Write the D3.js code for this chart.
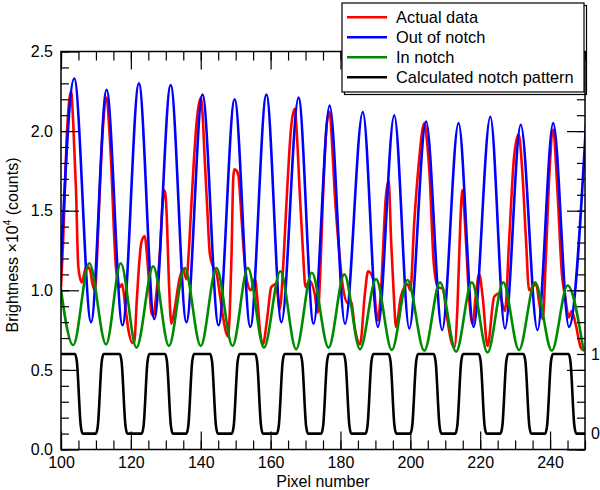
<!DOCTYPE html>
<html><head><meta charset="utf-8">
<script src="https://cdn.jsdelivr.net/npm/d3@7"></script>
<style>
body{margin:0;background:#fff}
text{font-family:"Liberation Sans",Arial,Helvetica,sans-serif;fill:#000}
</style>
</head><body>
<svg id="chart" width="600" height="490"></svg>
<script>
// ---- data ----
const xTicksMajor = [100, 120, 140, 160, 180, 200, 220, 240];
const yTicksMajor = [0.0, 0.5, 1.0, 1.5, 2.0, 2.5];
const legendLabels = ["Actual data", "Out of notch", "In notch", "Calculated notch pattern"];
const rightLabels = [{v: 0.6, t: "1"}, {v: 0.1, t: "0"}];

// Out of notch (blue): alternating troughs / peaks
const blueX = [99.3,103.8,108.6,113.05,117.6,122.3,126.7,131.4,135.9,140.5,145.1,149.7,154.2,158.8,163.1,168.0,172.3,176.9,181.3,186.4,190.7,195.4,199.7,204.5,209.1,213.8,218.1,222.9,227.1,231.6,236.4,240.9,245.4,250.3];
const blueY = [0.80,2.33,0.80,2.26,0.78,2.30,0.82,2.29,0.80,2.23,0.78,2.20,0.77,2.23,0.80,2.21,0.79,2.16,0.79,2.12,0.77,2.10,0.76,2.06,0.75,2.05,0.77,2.09,0.76,2.04,0.75,2.05,0.77,2.05];

// In notch (green): alternating peaks / troughs
const greenX = [99.0,103.5,108.1,112.9,117.1,121.6,126.4,130.9,135.4,140.0,144.5,149.1,153.5,158.1,162.8,167.3,171.8,176.6,181.1,185.6,190.2,194.7,199.2,204.0,208.5,213.1,217.6,222.1,226.6,231.1,235.7,240.5,245.0,249.6];
const greenY = [1.17,0.656,1.17,0.66,1.17,0.64,1.15,0.65,1.14,0.65,1.14,0.65,1.14,0.64,1.12,0.63,1.11,0.64,1.10,0.63,1.07,0.625,1.065,0.62,1.05,0.614,1.05,0.61,1.05,0.625,1.05,0.62,1.03,0.62];

// Actual data (red)
const redX = [100.0,100.6,101.6,102.3,102.9,103.5,104.3,104.95,105.9,107.3,108.3,109.0,109.7,110.3,111.1,112.0,113.05,113.8,114.5,115.1,115.7,116.3,116.9,117.5,118.3,119.3,120.4,121.0,121.7,123.0,124.0,124.5,125.0,125.9,126.4,127.3,128.3,129.1,129.5,129.9,130.3,130.8,131.6,132.5,134.0,135.0,135.9,136.6,137.3,138.0,138.8,140.0,140.6,141.1,141.9,142.6,143.5,144.5,145.5,146.4,147.8,148.3,148.8,149.3,149.6,150.3,150.8,151.4,152.1,153.3,154.3,155.5,156.3,157.0,157.8,159.0,160.2,161.6,162.6,163.6,164.5,165.9,166.9,167.6,168.3,169.2,170.0,171.1,172.6,173.5,174.2,174.9,176.1,176.9,177.6,178.3,179.7,180.7,182.1,183.0,184.2,185.6,187.0,187.9,189.4,190.0,190.7,191.6,193.0,193.8,194.5,195.2,195.9,197.3,198.3,199.2,200.0,201.1,202.6,203.4,204.0,204.7,205.5,206.7,207.9,209.3,210.2,211.6,212.6,213.5,214.3,214.9,215.9,216.8,217.8,218.7,219.7,220.7,222.1,224.0,225.4,227.1,228.3,229.7,231.0,232.1,233.1,234.0,235.0,236.0,236.9,237.9,238.8,239.8,240.9,242.1,243.4,244.3,245.4,246.2,247.3,248.8,249.7];
const redY = [1.02,1.30,1.94,2.18,2.25,2.05,1.63,1.15,1.05,1.15,1.13,1.04,1.00,1.20,1.63,2.02,2.21,2.02,1.73,1.40,1.15,1.05,1.02,1.04,0.92,0.75,0.67,0.68,0.94,1.30,1.34,1.25,1.11,0.86,0.84,0.98,1.23,1.55,1.63,1.60,1.45,1.11,0.79,0.88,1.08,1.13,1.07,1.25,1.53,1.80,2.05,2.21,2.08,1.84,1.50,1.23,1.15,1.11,0.97,0.83,0.71,0.85,1.21,1.70,1.76,1.75,1.72,1.55,1.31,1.05,1.00,1.07,0.92,0.74,0.66,0.82,1.02,1.04,0.88,1.15,1.53,2.03,2.14,1.95,1.63,1.27,1.02,1.06,0.98,0.86,1.10,1.53,2.05,2.12,1.92,1.63,1.23,1.02,0.92,0.93,0.75,0.66,0.98,1.12,1.07,0.92,0.81,1.00,1.59,1.69,1.31,1.00,0.77,0.96,1.02,1.04,1.00,1.42,1.84,2.00,2.05,1.95,1.73,1.17,1.02,1.01,0.88,0.69,0.64,0.90,1.42,1.63,1.32,0.96,0.79,0.96,1.10,0.96,0.65,0.96,0.98,0.87,1.32,1.84,1.98,1.73,1.32,1.00,1.02,1.04,0.92,0.82,1.21,1.73,2.01,1.63,1.10,0.96,0.83,0.87,0.79,0.64,0.62];

// Calculated notch pattern (black): levels and edge positions (pixel number)
const notchHigh = 0.6, notchLow = 0.1;
const notchDown = [105.1,117.9,130.9,143.8,156.7,169.6,182.0,194.9,207.8,220.7,233.5,246.4];
const notchUp   = [111.1,124.2,137.0,150.0,162.9,175.6,188.3,201.1,214.0,226.9,239.7];

// ---- drawing ----
const svg = d3.select("#chart");
const L = 61, R = 585, T = 51.5, B = 449.5;
const x = d3.scaleLinear().domain([100, 250]).range([L, R]);
const y = d3.scaleLinear().domain([0, 2.5]).range([B, T]);

svg.append("defs").append("clipPath").attr("id", "clip")
  .append("rect").attr("x", L).attr("y", T).attr("width", R - L).attr("height", B - T);

const line = d3.line().x(d => x(d[0])).y(d => y(d[1])).curve(d3.curveMonotoneX);

// notch path points
const edges = notchDown.map(m => ({m, dir: -1})).concat(notchUp.map(m => ({m, dir: 1})))
  .sort((a, b) => a.m - b.m);
const notchPts = [[98, notchHigh]];
edges.forEach(e => {
  const from = e.dir < 0 ? notchHigh : notchLow, to = e.dir < 0 ? notchLow : notchHigh;
  const s = e.dir < 0 ? -1 : 1;
  notchPts.push([e.m - 1.1, from], [e.m - 0.55, from + s * 0.05], [e.m + 0.55, to - s * 0.05], [e.m + 1.1, to]);
});
notchPts.push([252, notchLow]);

const colors = ["#ff0000", "#0000ff", "#008a00", "#000000"];
const series = [d3.zip(redX, redY), d3.zip(blueX, blueY), d3.zip(greenX, greenY), notchPts];

const g = svg.append("g").attr("clip-path", "url(#clip)");
series.forEach((s, i) => {
  g.append("path").datum(s).attr("d", line)
    .attr("fill", "none").attr("stroke", colors[i]).attr("stroke-width", 2.6)
    .attr("stroke-linejoin", "round");
});

// axes
const minorX = d3.range(100, 251, 5), minorY = d3.range(0, 26).map(i => i / 10);
function styleAxis(sel) {
  sel.select(".domain").remove();
  sel.selectAll(".tick line").attr("stroke", "#000").attr("stroke-width", 1.2);
  sel.selectAll("text").attr("font-size", 16).attr("font-family", '"Liberation Sans",Arial,sans-serif').attr("fill", "#000");
}
svg.append("g").attr("transform", `translate(0,${B})`)
  .call(d3.axisBottom(x).tickValues(minorX).tickSize(-9).tickFormat("")).call(styleAxis);
svg.append("g").attr("transform", `translate(0,${B})`)
  .call(d3.axisBottom(x).tickValues(xTicksMajor).tickSize(-18).tickPadding(7).tickFormat(d3.format("d"))).call(styleAxis);
svg.append("g").attr("transform", `translate(0,${T})`)
  .call(d3.axisTop(x).tickValues(minorX).tickSize(-9).tickFormat("")).call(styleAxis);
svg.append("g").attr("transform", `translate(0,${T})`)
  .call(d3.axisTop(x).tickValues(xTicksMajor).tickSize(-18).tickFormat("")).call(styleAxis);
svg.append("g").attr("transform", `translate(${L},0)`)
  .call(d3.axisLeft(y).tickValues(minorY).tickSize(-8).tickFormat("")).call(styleAxis);
svg.append("g").attr("transform", `translate(${L},0)`)
  .call(d3.axisLeft(y).tickValues(yTicksMajor).tickSize(-18).tickPadding(8).tickFormat(d3.format(".1f"))).call(styleAxis);
svg.append("g").attr("transform", `translate(${R},0)`)
  .call(d3.axisRight(y).tickValues(minorY).tickSize(-8).tickFormat("")).call(styleAxis);
svg.append("g").attr("transform", `translate(${R},0)`)
  .call(d3.axisRight(y).tickValues(yTicksMajor).tickSize(-18).tickFormat("")).call(styleAxis);

svg.append("rect").attr("x", L).attr("y", T).attr("width", R - L).attr("height", B - T)
  .attr("fill", "none").attr("stroke", "#000").attr("stroke-width", 1.5);

// right-hand notch labels
svg.selectAll("text.rl").data(rightLabels).enter().append("text").attr("class", "rl")
  .attr("x", R + 6).attr("y", d => y(d.v)).attr("dy", "0.35em")
  .attr("font-size", 16).text(d => d.t);

// axis titles
svg.append("text").attr("x", (L + R) / 2).attr("y", 487).attr("text-anchor", "middle")
  .attr("font-size", 16).text("Pixel number");
const yl = svg.append("text").attr("transform", "translate(18,245) rotate(-90)")
  .attr("text-anchor", "middle").attr("font-size", 16);
yl.append("tspan").text("Brightness ×10");
yl.append("tspan").attr("font-size", 10).attr("dy", -7).text("4");
yl.append("tspan").attr("dy", 7).text(" (counts)");

// legend
const lg = svg.append("g");
lg.append("rect").attr("x", 344.5).attr("y", 5.5).attr("width", 242).attr("height", 89)
  .attr("fill", "none").attr("stroke", "#000").attr("stroke-width", 1.2);
lg.append("rect").attr("x", 342).attr("y", 3).attr("width", 242).attr("height", 89)
  .attr("fill", "#fff").attr("stroke", "#000").attr("stroke-width", 1.2);
legendLabels.forEach((t, i) => {
  const yy = 17.3 + 20 * i;
  lg.append("line").attr("x1", 347).attr("x2", 387).attr("y1", yy).attr("y2", yy)
    .attr("stroke", colors[i]).attr("stroke-width", 2.6);
  lg.append("text").attr("x", 396).attr("y", yy).attr("dy", "0.35em").attr("font-size", 16.4).text(t);
});
</script>
</body></html>
